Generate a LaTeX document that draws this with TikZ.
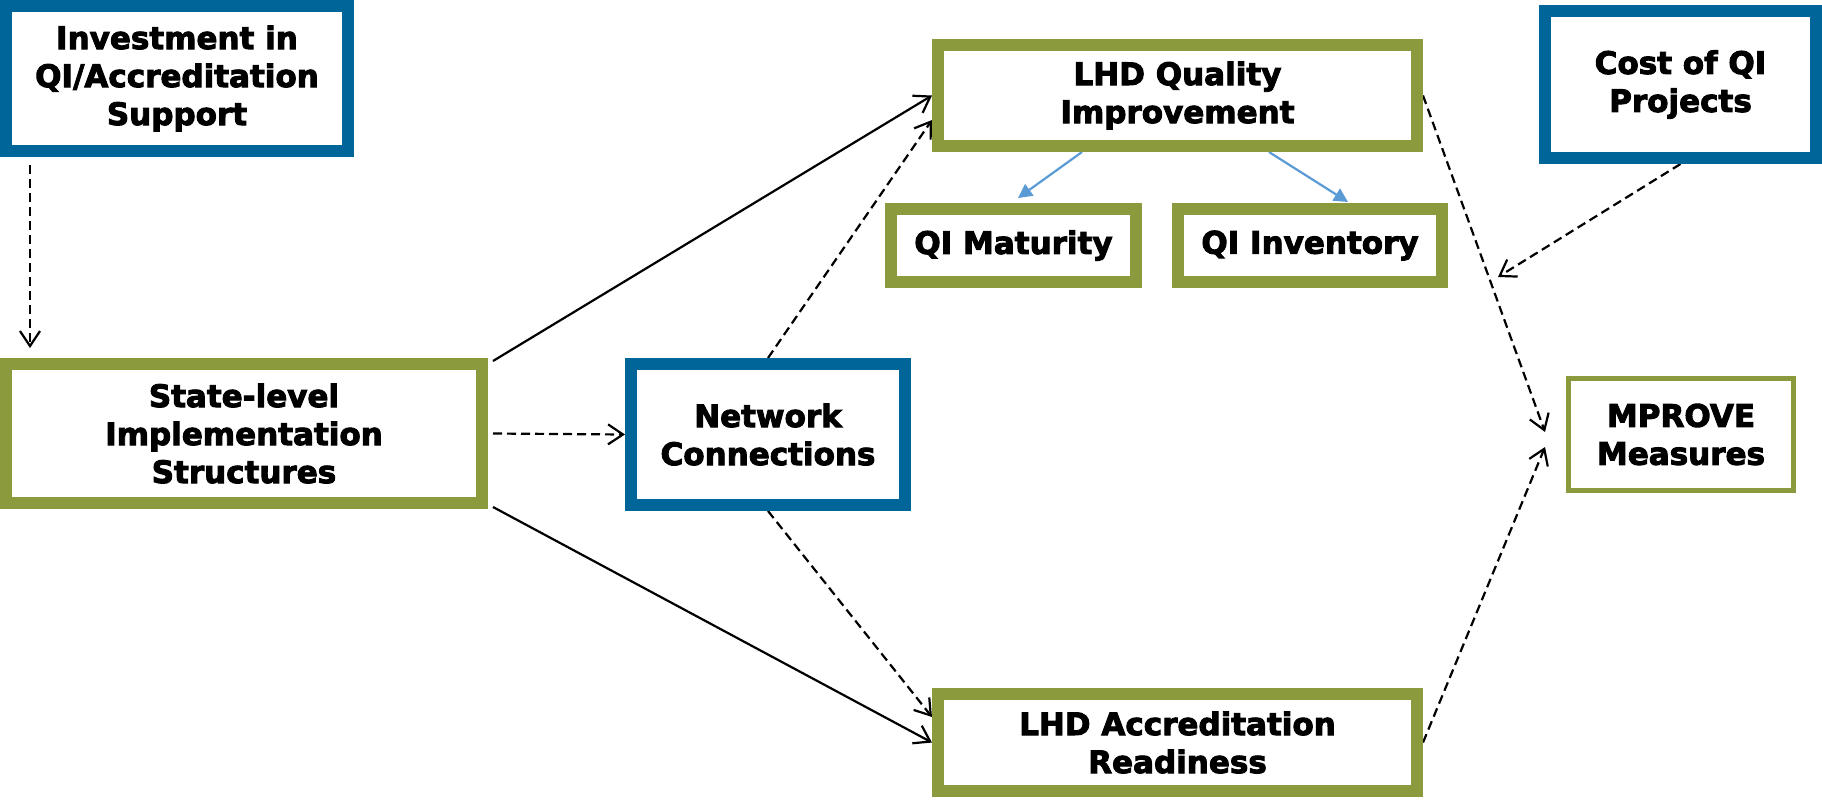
\documentclass[tikz,border=0pt]{standalone}
\usepackage{fontspec}
\setmainfont{DejaVu Sans}
\newfontfamily\blk{DejaVu Sans Bold}[FakeBold=3]
\usetikzlibrary{arrows.meta,calc}
\definecolor{bboxc}{HTML}{006699}
\definecolor{gboxc}{HTML}{8A9A3C}
\definecolor{barrow}{HTML}{5B9BD5}
\pgfdeclarelayer{bg}
\pgfsetlayers{bg,main}
\begin{document}
\begin{tikzpicture}[x=0.5pt,y=-0.5pt,
 box/.style={draw, fill=white, line width=6pt, align=center, inner sep=0pt,
   font=\fontsize{15.5}{19}\selectfont\blk},
 bluebox/.style={box, draw=bboxc},
 greenbox/.style={box, draw=gboxc},
 dsh/.style={line width=1.1pt, dash pattern=on 4.5pt off 2.5pt, -{Straight Barb[length=7.5pt,width=10pt]}},
 sld/.style={line width=1.1pt, -{Straight Barb[length=7.5pt,width=10pt]}},
 blu/.style={draw=barrow, line width=1.1pt, -{Triangle[length=7pt,width=7pt]}, barrow}]
\useasboundingbox (0,0) rectangle (1822,799);

\node[bluebox, minimum width=171pt, minimum height=72.5pt] (inv) at (177,78.5) {Investment in\\QI/Accreditation\\Support};
\node[greenbox, minimum width=238pt, minimum height=69.5pt] (state) at (244,433.5) {State-level\\Implementation\\Structures};
\node[bluebox, minimum width=137pt, minimum height=70.5pt] (net) at (768,434.5) {Network\\Connections};
\node[greenbox, minimum width=239.5pt, minimum height=50.5pt] (lhdqi) at (1177.5,95.5) {LHD Quality\\Improvement};
\node[greenbox, minimum width=122.5pt, minimum height=36.5pt] (mat) at (1013.5,245.5) {QI Maturity};
\node[greenbox, minimum width=132pt, minimum height=36.5pt] (qinv) at (1310,245.5) {QI Inventory};
\node[bluebox, minimum width=135.5pt, minimum height=73.5pt] (cost) at (1680.5,84.5) {Cost of QI\\Projects};
\node[greenbox, line width=2.5pt, minimum width=112.5pt, minimum height=56pt] (mprove) at (1681,434.5) {MPROVE\\Measures};
\node[greenbox, minimum width=239.5pt, minimum height=48.5pt] (acc) at (1177.5,742.5) {LHD Accreditation\\Readiness};
\coordinate (mod) at (1498,277);

\begin{pgfonlayer}{bg}
\draw[dsh] ($(inv.south west)+(30,8)$) -- ($(state.north west)+(30,-10)$);
\draw[sld] ($(state.north east)+(5,3)$) -- (lhdqi.west);
\draw[sld] ($(state.south east)+(5,-2)$) -- (acc.west);
\draw[dsh] ($(state.east)+(5,0)$) -- (net.west);
\draw[dsh] (net.north) -- ($(lhdqi.south west)+(0,-32)$);
\draw[dsh] (net.south) -- ($(acc.north west)+(0,29)$);
\draw[blu] ($(lhdqi.south)+(-95.5,0)$) -- ($(mat.north)+(4.5,-5)$);
\draw[blu] ($(lhdqi.south)+(91.5,0)$) -- ($(qinv.north)+(38,-1)$);
\draw[dsh] (lhdqi.east) -- ($(mprove.west)+(-21,-2.5)$);
\draw[dsh] (acc.east) -- ($(mprove.west)+(-21,12.5)$);
\draw[dsh] (cost.south) -- (mod);
\end{pgfonlayer}
\end{tikzpicture}
\end{document}
